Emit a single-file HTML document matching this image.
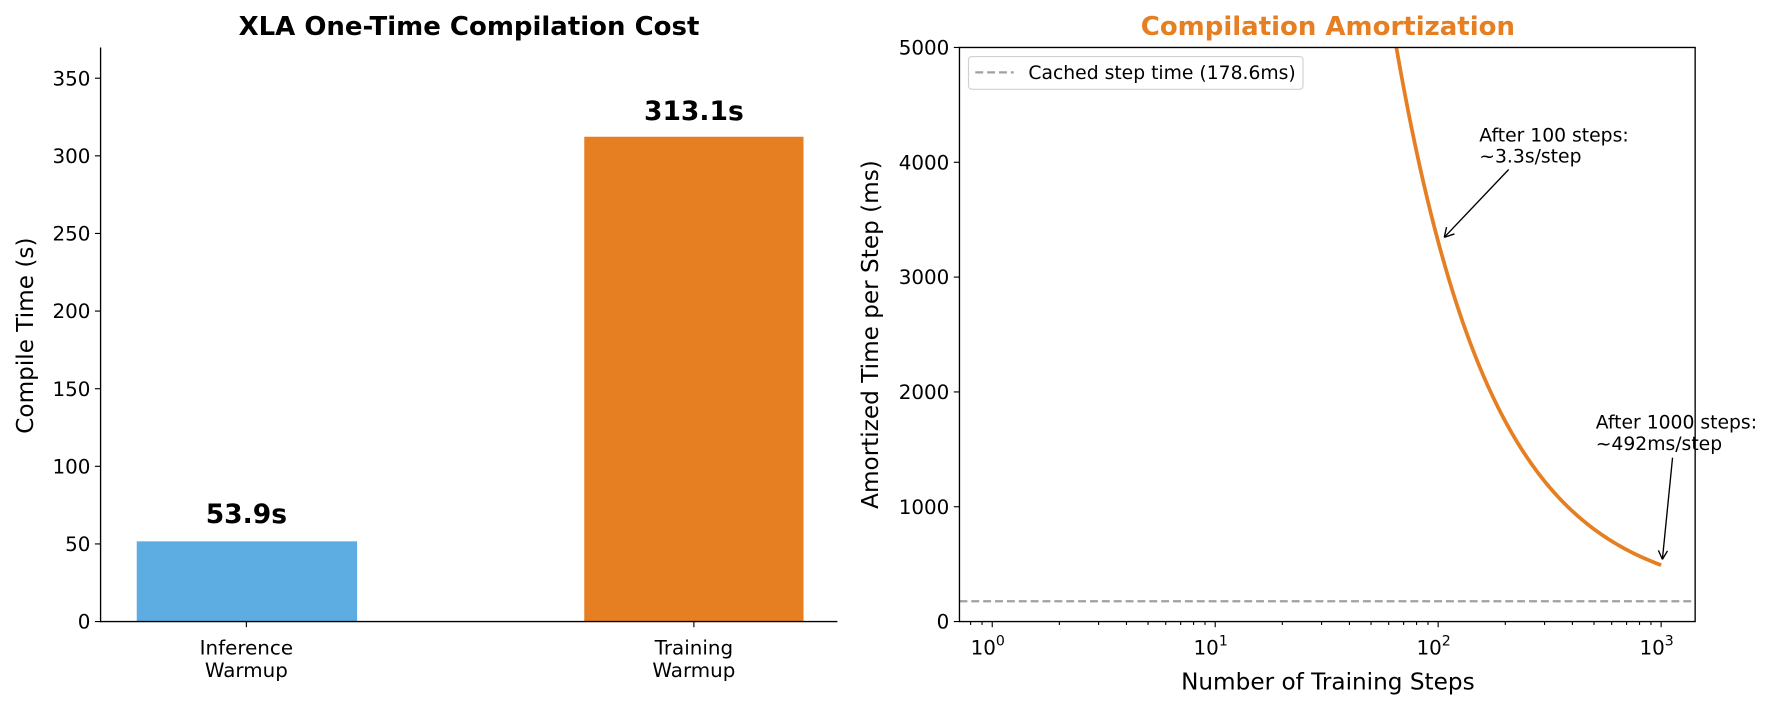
<!DOCTYPE html>
<html><head><meta charset="utf-8"><style>
html,body{margin:0;padding:0;background:#fff}
svg{display:block;font-family:"DejaVu Sans","Liberation Sans",sans-serif}
</style></head><body>
<svg id="s" width="1772" height="707" viewBox="0 0 1568 625.6" xmlns="http://www.w3.org/2000/svg">
<rect width="1568" height="626" fill="#fff"/>
<!-- Left chart -->
<text x="415" y="31" text-anchor="middle" font-size="23" font-weight="bold">XLA One-Time Compilation Cost</text>
<rect x="121" y="479" width="195" height="71" fill="#5dade2"/>
<rect x="517" y="121" width="194" height="429" fill="#e67e22"/>
<text x="218" y="463" text-anchor="middle" font-size="23.5" font-weight="bold">53.9s</text>
<text x="614" y="106" text-anchor="middle" font-size="23.5" font-weight="bold">313.1s</text>
<g stroke="#000" stroke-width="1.2" fill="none">
<line x1="89" y1="42" x2="89" y2="550.5"/><line x1="88.5" y1="550" x2="741" y2="550"/>
</g>
<g id="lyt" font-size="17.6" text-anchor="end"></g>
<g font-size="17.6" text-anchor="middle">
<line x1="218" y1="550" x2="218" y2="555" stroke="#000"/><line x1="614" y1="550" x2="614" y2="555" stroke="#000"/>
<text x="218" y="579">Inference</text><text x="218" y="599">Warmup</text>
<text x="614" y="579">Training</text><text x="614" y="599">Warmup</text>
</g>
<text transform="translate(29,297) rotate(-90)" text-anchor="middle" font-size="20.5">Compile Time (s)</text>

<!-- Right chart -->
<text x="1175" y="31" text-anchor="middle" font-size="23" font-weight="bold" fill="#e67e22">Compilation Amortization</text>
<line x1="849" y1="532" x2="1500" y2="532" stroke="#a0a0a0" stroke-width="2" stroke-dasharray="7,3.5"/>
<path id="curve" fill="none" stroke="#e67e22" stroke-width="3.3"/>
<rect x="849" y="42" width="651" height="508" fill="none" stroke="#000" stroke-width="1.2"/>
<g id="ryt" font-size="17.6" text-anchor="end"></g>
<g id="rxt" font-size="17.6" text-anchor="middle"></g>
<text x="1175" y="610" text-anchor="middle" font-size="20.5">Number of Training Steps</text>
<text transform="translate(777,296) rotate(-90)" text-anchor="middle" font-size="20.5">Amortized Time per Step (ms)</text>
<rect x="857" y="50" width="296" height="29" rx="3" fill="#fff" stroke="#d0d0d0" stroke-width="1"/>
<line x1="863" y1="64" x2="897" y2="64" stroke="#a0a0a0" stroke-width="2" stroke-dasharray="7,3.5"/>
<text x="910" y="70" font-size="16.6">Cached step time (178.6ms)</text>
<text x="1309" y="125" font-size="16.6">After 100 steps:</text>
<text x="1309" y="144" font-size="16.6">~3.3s/step</text>
<line x1="1335" y1="150" x2="1278" y2="210" stroke="#000" stroke-width="1.2"/>
<path d="M1278 210 l2 -9 M1278 210 l9 -3" stroke="#000" stroke-width="1.2" fill="none"/>
<text x="1412" y="379" font-size="16.6">After 1000 steps:</text>
<text x="1412" y="398" font-size="16.6">~492ms/step</text>
<line x1="1480" y1="405" x2="1471" y2="495" stroke="#000" stroke-width="1.2"/>
<path d="M1471 495 l-3.5 -8 M1471 495 l4.5 -7.5" stroke="#000" stroke-width="1.2" fill="none"/>
</svg>
<script>
var NS="http://www.w3.org/2000/svg";
function el(p,t,a,txt){var e=document.createElementNS(NS,t);for(var k in a)e.setAttribute(k,a[k]);if(txt!=null)e.textContent=txt;document.getElementById(p).appendChild(e);return e;}
for(var v=0;v<=350;v+=50){var y=550-v*1.3737;el("lyt","line",{x1:84,y1:y,x2:89,y2:y,stroke:"#000"});el("lyt","text",{x:80,y:y+6.3},v);}
for(var v=0;v<=5000;v+=1000){var y=550-v*0.1016;el("ryt","line",{x1:844,y1:y,x2:849,y2:y,stroke:"#000"});el("ryt","text",{x:840,y:y+6.3},v);}
function X(n){return 878+Math.log10(n)*197.3;}
for(var d=0;d<=3;d++){var x=X(Math.pow(10,d));el("rxt","line",{x1:x,y1:550,x2:x,y2:555,stroke:"#000"});
var t=el("rxt","text",{x:x-4,y:579},"10");var ts=document.createElementNS(NS,"tspan");ts.setAttribute("font-size","12.5");ts.setAttribute("dy","-8");ts.textContent=d;t.appendChild(ts);}
for(var d=-1;d<=3;d++)for(var m=2;m<=9;m++){var n=m*Math.pow(10,d);var x=X(n);if(x<850||x>1499)continue;el("rxt","line",{x1:x,y1:550,x2:x,y2:553,stroke:"#000"});}
var p="";for(var i=0;i<=200;i++){var lg=1.8123+(3-1.8123)*i/200;var n=Math.pow(10,lg);var v=178.6+313100/n;var y=550-v*0.1016;p+=(i?"L":"M")+X(n).toFixed(2)+" "+y.toFixed(2);}
document.getElementById("curve").setAttribute("d",p);
</script>
</body></html>
